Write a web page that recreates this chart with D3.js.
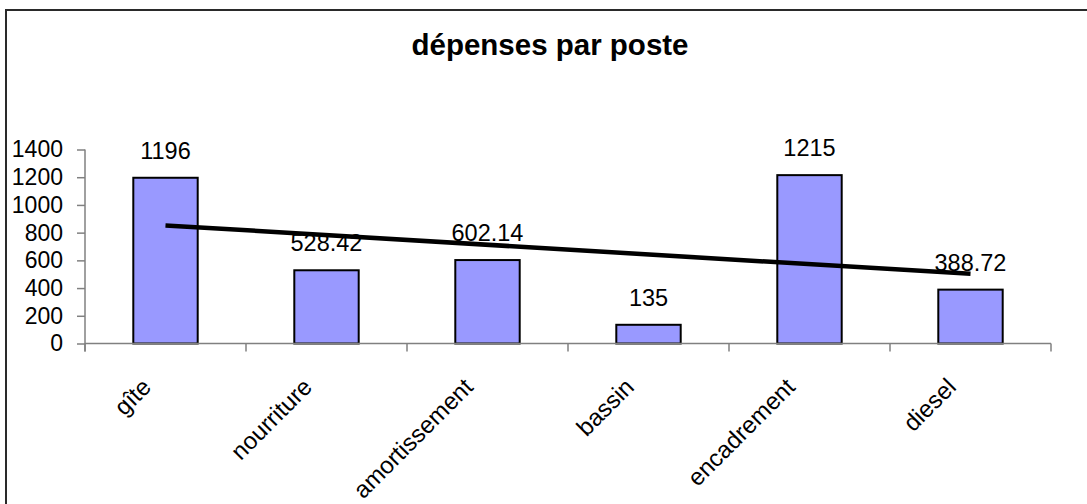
<!DOCTYPE html>
<html>
<head>
<meta charset="utf-8">
<script src="https://cdn.jsdelivr.net/npm/d3@7/dist/d3.min.js"></script>
<style>
  html, body { margin: 0; padding: 0; background: #fff; }
  svg { display: block; font-family: "Liberation Sans", Arial, sans-serif; }
</style>
</head>
<body>
<svg id="chart" width="1087" height="504"></svg>
<script>
const title = "dépenses par poste";
const categories = ["gîte", "nourriture", "amortissement", "bassin", "encadrement", "diesel"];
const values = [1196, 528.42, 602.14, 135, 1215, 388.72];
const yTicks = [0, 200, 400, 600, 800, 1000, 1200, 1400];

const svg = d3.select("#chart");
const W = 1087, H = 504;
const plotLeft = 85, plotRight = 1051, plotTop = 149.5, plotBottom = 343.5;

// outer chart border (cropped on right and bottom)
svg.append("rect")
  .attr("x", 6).attr("y", 10)
  .attr("width", W + 20).attr("height", H + 20)
  .attr("fill", "#fff").attr("stroke", "#2a2a2a").attr("stroke-width", 2);

const x = d3.scaleBand().domain(categories).range([plotLeft, plotRight]).paddingInner(0).paddingOuter(0);
const y = d3.scaleLinear().domain([0, 1400]).range([plotBottom, plotTop]);

const barW = x.bandwidth() / 2.5;

// bars
svg.append("g").selectAll("rect").data(categories).join("rect")
  .attr("x", (d) => x(d) + (x.bandwidth() - barW) / 2)
  .attr("y", (d, i) => y(values[i]))
  .attr("width", barW)
  .attr("height", (d, i) => y(0) - y(values[i]))
  .attr("fill", "#9999ff")
  .attr("stroke", "#000")
  .attr("stroke-width", 2);

// y axis
const yAxis = d3.axisLeft(y).tickValues(yTicks).tickFormat(d3.format("d"))
  .tickSize(8).tickPadding(14).tickSizeOuter(0);
const gy = svg.append("g").attr("transform", `translate(${plotLeft},0)`).call(yAxis);
gy.select(".domain").attr("stroke", "#808080").attr("stroke-width", 1.5)
  .attr("d", `M0,${plotTop}V${plotBottom + 8}`);
gy.selectAll(".tick line").attr("stroke", "#808080").attr("stroke-width", 1.5);
gy.selectAll(".tick text").attr("font-size", 23).attr("fill", "#000")
  .attr("font-family", "Liberation Sans, Arial, sans-serif");

// x axis
const xTickPos = d3.range(categories.length + 1).map((i) => plotLeft + i * x.bandwidth());
const gx = svg.append("g");
gx.append("line").attr("x1", plotLeft).attr("x2", plotRight).attr("y1", plotBottom).attr("y2", plotBottom)
  .attr("stroke", "#808080").attr("stroke-width", 1.5);
gx.selectAll("line.tk").data(xTickPos).join("line").attr("class", "tk")
  .attr("x1", (d) => d).attr("x2", (d) => d)
  .attr("y1", plotBottom).attr("y2", plotBottom + 8)
  .attr("stroke", "#808080").attr("stroke-width", 1.5);

// category labels rotated
svg.append("g").selectAll("text").data(categories).join("text")
  .attr("transform", (d) => `translate(${x(d) + x.bandwidth() / 2 - 13},${plotBottom + 45}) rotate(-45)`)
  .attr("text-anchor", "end")
  .attr("font-size", 24)
  .attr("fill", "#000")
  .text((d) => d);

// value labels
svg.append("g").selectAll("text").data(categories).join("text")
  .attr("x", (d) => x(d) + x.bandwidth() / 2)
  .attr("y", (d, i) => y(values[i]) - 19)
  .attr("text-anchor", "middle")
  .attr("font-size", 23.5)
  .attr("fill", "#000")
  .text((d, i) => String(values[i]));

// linear trend line (least squares over category index)
const n = values.length;
const xs = d3.range(1, n + 1);
const mx = d3.mean(xs), my = d3.mean(values);
const slope = d3.sum(xs, (xi, i) => (xi - mx) * (values[i] - my)) / d3.sum(xs, (xi) => (xi - mx) ** 2);
const intercept = my - slope * mx;
const trend = [1, n].map((xi) => ({ c: categories[xi - 1], v: intercept + slope * xi }));
svg.append("path")
  .datum(trend)
  .attr("fill", "none")
  .attr("stroke", "#000")
  .attr("stroke-width", 4.5)
  .attr("d", d3.line().x((d) => x(d.c) + x.bandwidth() / 2).y((d) => y(d.v)));

// title
svg.append("text")
  .attr("x", 550).attr("y", 55)
  .attr("text-anchor", "middle")
  .attr("font-size", 29.5)
  .attr("font-weight", "bold")
  .attr("fill", "#000")
  .text(title);
</script>
</body>
</html>
